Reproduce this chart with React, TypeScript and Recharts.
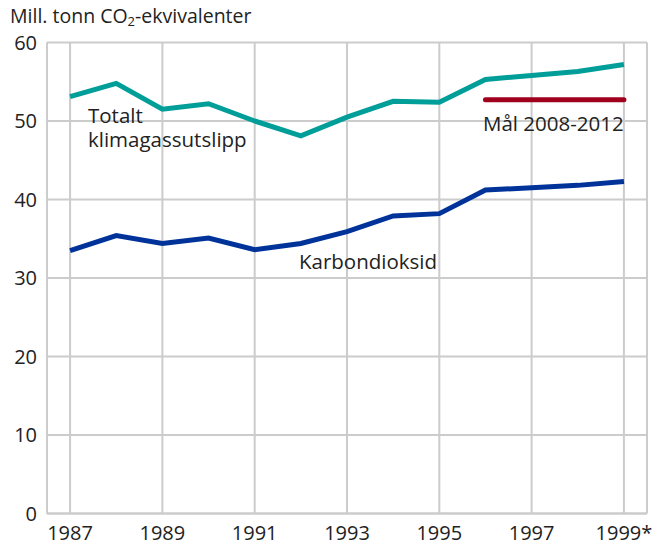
import { LineChart, Line, XAxis, YAxis, CartesianGrid } from 'recharts';

// Utslipp av klimagasser, mill. tonn CO2-ekvivalenter
const years = [1987, 1988, 1989, 1990, 1991, 1992, 1993, 1994, 1995, 1996, 1997, 1998, 1999];
const totalt = [53.1, 54.8, 51.5, 52.2, 50.0, 48.1, 50.5, 52.5, 52.4, 55.3, 55.8, 56.3, 57.2];
const karbondioksid = [33.5, 35.4, 34.4, 35.1, 33.6, 34.4, 35.9, 37.9, 38.2, 41.2, 41.5, 41.8, 42.3];
const maal = [null, null, null, null, null, null, null, null, null, 52.7, 52.7, 52.7, 52.7];

const xTicks = [1987, 1989, 1991, 1993, 1995, 1997, 1999];
const xLabels: Record<number, string> = { 1999: '1999*' };
const yTicks = [0, 10, 20, 30, 40, 50, 60];

const data = years.map((year, i) => ({
  year,
  totalt: totalt[i],
  karbondioksid: karbondioksid[i],
  maal: maal[i],
}));

const FONT = '"Open Sans", sans-serif';
const TEXT = '#222';

const YearTick = (props: any) => {
  const { x, y, payload } = props;
  return (
    <text x={x} y={y + 18} textAnchor="middle" fill={TEXT} fontSize={20} fontFamily={FONT}>
      {xLabels[payload.value] ?? payload.value}
    </text>
  );
};

const label = (left: number, top: number): React.CSSProperties => ({
  position: 'absolute',
  left,
  top,
  fontFamily: FONT,
  fontSize: 20.5,
  lineHeight: '24px',
  color: TEXT,
  whiteSpace: 'nowrap',
});

export default function App() {
  return (
    <div style={{ position: 'relative', width: 653, height: 545, background: '#fff' }}>
      <style>{'body{margin:0}'}</style>
      <LineChart
        width={653}
        height={545}
        data={data}
        margin={{ top: 42.5, right: 6, bottom: 0, left: 0 }}
      >
        <CartesianGrid stroke="#cccccc" strokeWidth={2} />
        <XAxis
          dataKey="year"
          type="number"
          domain={[1986.5, 1999.5]}
          ticks={xTicks}
          height={31.5}
          axisLine={{ stroke: '#cccccc', strokeWidth: 2 }}
          tickLine={false}
          tick={<YearTick />}
          allowDataOverflow
        />
        <YAxis
          domain={[0, 60]}
          ticks={yTicks}
          width={47}
          axisLine={{ stroke: '#cccccc', strokeWidth: 2 }}
          tickLine={false}
          tickSize={0}
          tickMargin={10}
          tick={{ fill: TEXT, fontSize: 20, fontFamily: FONT }}
        />
        <Line
          dataKey="totalt"
          stroke="#009e99"
          strokeWidth={5}
          dot={false}
          type="linear"
          isAnimationActive={false}
        />
        <Line
          dataKey="karbondioksid"
          stroke="#003399"
          strokeWidth={5}
          dot={false}
          type="linear"
          isAnimationActive={false}
        />
        <Line
          dataKey="maal"
          stroke="#a0001e"
          strokeWidth={5}
          strokeLinecap="round"
          dot={false}
          type="linear"
          isAnimationActive={false}
        />
      </LineChart>
      <div style={{ ...label(10, 4), fontSize: 19.5 }}>
        Mill. tonn CO<sub style={{ fontSize: 13, verticalAlign: '-3px', lineHeight: 0 }}>2</sub>-ekvivalenter
      </div>
      <div style={label(88, 103)}>
        Totalt
        <br />
        klimagassutslipp
      </div>
      <div style={label(299, 249)}>Karbondioksid</div>
      <div style={label(483, 111)}>Mål 2008-2012</div>
    </div>
  );
}
